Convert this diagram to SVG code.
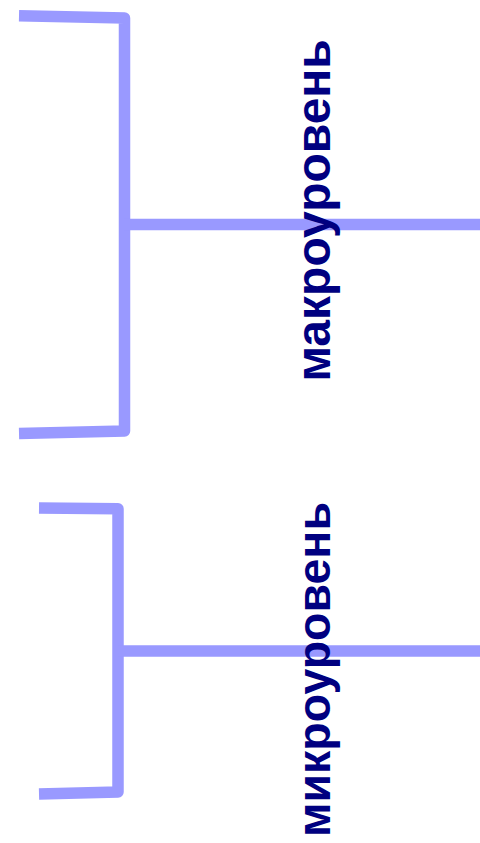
<svg xmlns="http://www.w3.org/2000/svg" width="480" height="843" viewBox="0 0 480 843">
<style>
.br{fill:none;stroke:#9999FF;stroke-width:11.5;stroke-linejoin:round;stroke-linecap:butt}
.lbl{font-family:"Liberation Sans",Arial,sans-serif;font-weight:bold;font-size:48px;fill:#000080}
</style>
<rect width="480" height="843" fill="#FFFFFF"/>
<g id="connectors">
<path class="br" d="M19,15.8 L124.5,18 L124.5,431 L19,433.5"/>
<path class="br" d="M124.5,224.5 L480,224.5"/>
<path class="br" d="M39,508 L118,508.8 L118,792 L39,794"/>
<path class="br" d="M118,651 L480,651"/>
</g>
<g id="macro">
<text class="lbl" transform="translate(330,381.5) rotate(-90)">макроуровень</text>
</g>
<g id="micro">
<text class="lbl" style="font-size:46.5px" transform="translate(329.5,837) rotate(-90)">микроуровень</text>
</g>
</svg>
